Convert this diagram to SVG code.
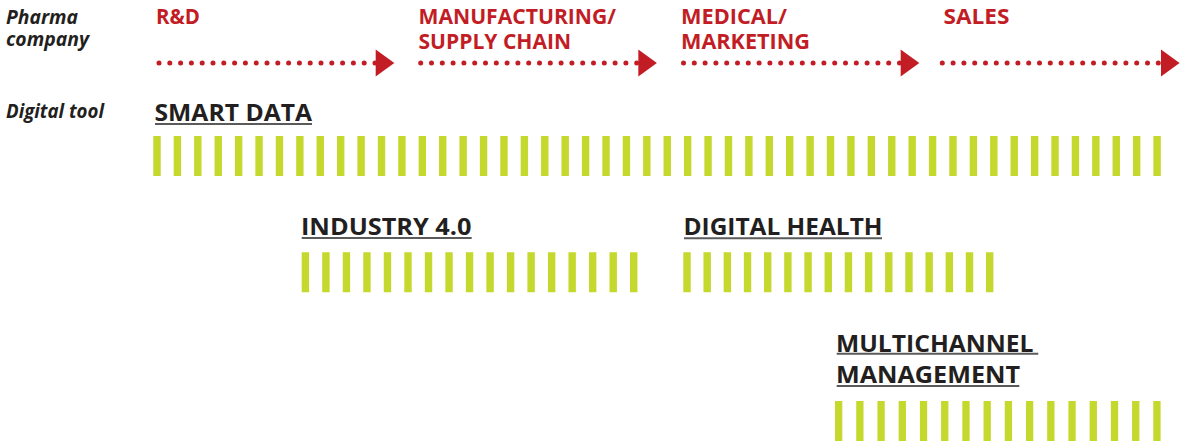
<svg xmlns="http://www.w3.org/2000/svg" width="1187" height="444" viewBox="0 0 1187 444">
  <style>
    .side { font-family: "Open Sans", "Liberation Sans", sans-serif; font-weight: 700; font-style: italic; font-size: 19px; fill: #231f20; }
    .stage { font-family: "Open Sans", "Liberation Sans", sans-serif; font-weight: 700; font-size: 21px; fill: #c21d25; }
    .tool { font-family: "Open Sans", "Liberation Sans", sans-serif; font-weight: 700; font-size: 23.5px; fill: #231f20; }
    .ul { stroke: #5a5a5a; stroke-width: 2; }
    .dots { stroke: #c21d25; stroke-width: 5; stroke-linecap: round; stroke-dasharray: 0 10.8; fill: none; }
    .head { fill: #c21d25; }
    .bars { stroke: #c5d82d; stroke-width: 40; fill: none; }
  </style>
  <rect width="1187" height="444" fill="#ffffff"/>

  <g id="row-labels">
    <text class="side" x="6" y="24" textLength="72" lengthAdjust="spacingAndGlyphs">Pharma</text>
    <text class="side" x="6" y="46" textLength="83" lengthAdjust="spacingAndGlyphs">company</text>
    <text class="side" x="6" y="118" textLength="98" lengthAdjust="spacingAndGlyphs">Digital tool</text>
  </g>

  <g id="stage-rd">
    <text class="stage" x="156" y="24" textLength="44" lengthAdjust="spacingAndGlyphs">R&amp;D</text>
  </g>
  <g id="stage-manufacturing">
    <text class="stage" x="418.5" y="24.3" textLength="197.5" lengthAdjust="spacingAndGlyphs">MANUFACTURING/</text>
    <text class="stage" x="418.5" y="49.3" textLength="152.5" lengthAdjust="spacingAndGlyphs">SUPPLY CHAIN</text>
  </g>
  <g id="stage-medical">
    <text class="stage" x="681" y="24.3" textLength="106" lengthAdjust="spacingAndGlyphs">MEDICAL/</text>
    <text class="stage" x="681" y="49.3" textLength="129" lengthAdjust="spacingAndGlyphs">MARKETING</text>
  </g>
  <g id="stage-sales">
    <text class="stage" x="943.5" y="24.3" textLength="66" lengthAdjust="spacingAndGlyphs">SALES</text>
  </g>

  <g id="connectors">
    <line class="dots" x1="159" y1="63" x2="375.1" y2="63"/>
    <polygon class="head" points="375.7,49.5 394.3,63 375.7,76.5"/>
    <line class="dots" x1="420.7" y1="63" x2="636.8" y2="63"/>
    <polygon class="head" points="638.3,49.5 656.9,63 638.3,76.5"/>
    <line class="dots" x1="683.5" y1="63" x2="899.6" y2="63"/>
    <polygon class="head" points="900.7,49.5 919.3,63 900.7,76.5"/>
    <line class="dots" x1="942.3" y1="63" x2="1158.4" y2="63"/>
    <polygon class="head" points="1161,49.5 1179.6,63 1161,76.5"/>
  </g>

  <g id="tool-smart-data">
    <text class="tool" x="154.5" y="120.7" textLength="157.5" lengthAdjust="spacingAndGlyphs">SMART DATA</text>
    <line class="ul" x1="155" y1="124" x2="312" y2="124"/>
    <line class="bars" x1="153.3" y1="156" x2="1160.8" y2="156" stroke-dasharray="7.4 13.01"/>
  </g>

  <g id="tool-industry">
    <text class="tool" x="301" y="235" textLength="170.5" lengthAdjust="spacingAndGlyphs">INDUSTRY 4.0</text>
    <line class="ul" x1="301.7" y1="238" x2="471.7" y2="238"/>
    <line class="bars" x1="301.7" y1="272.3" x2="637.8" y2="272.3" stroke-dasharray="7.4 13.12"/>
  </g>

  <g id="tool-digital-health">
    <text class="tool" x="683.5" y="235" textLength="199" lengthAdjust="spacingAndGlyphs">DIGITAL HEALTH</text>
    <line class="ul" x1="684" y1="238.3" x2="882" y2="238.3"/>
    <line class="bars" x1="683.3" y1="272.3" x2="993.4" y2="272.3" stroke-dasharray="7.4 12.78"/>
  </g>

  <g id="tool-multichannel">
    <text class="tool" x="836" y="351.7" textLength="197.5" lengthAdjust="spacingAndGlyphs">MULTICHANNEL</text>
    <line class="ul" x1="836.7" y1="353.7" x2="1038.3" y2="353.7"/>
    <text class="tool" x="836" y="383.3" textLength="184" lengthAdjust="spacingAndGlyphs">MANAGEMENT</text>
    <line class="ul" x1="836.7" y1="386" x2="1019.3" y2="386"/>
    <line class="bars" x1="835" y1="421" x2="1160.7" y2="421" stroke-dasharray="7.3 13.92"/>
  </g>
</svg>
